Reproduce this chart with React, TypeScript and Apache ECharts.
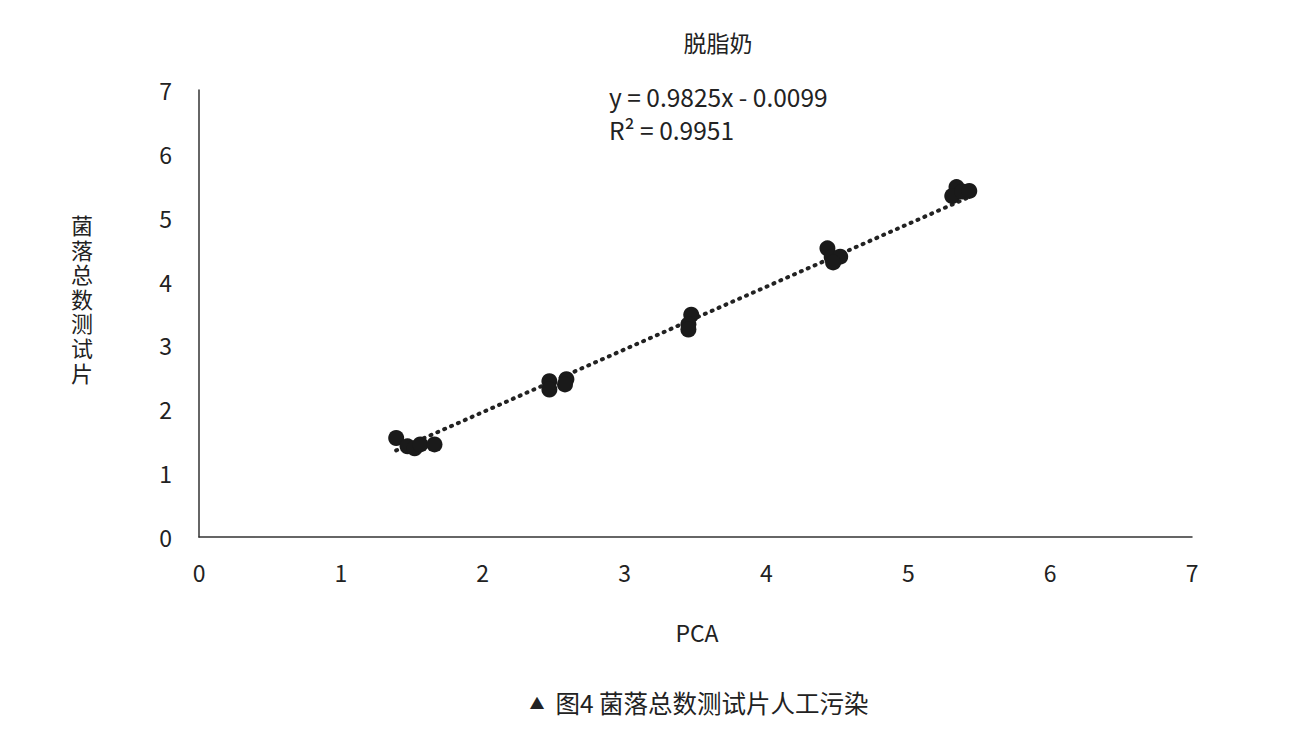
import { useEffect, useRef } from 'react';
import * as echarts from 'echarts';

// PCA (x) vs 菌落总数测试片 (y), skim milk samples
const pcaValues = [
  1.39, 1.47, 1.52, 1.56, 1.66,
  2.47, 2.47, 2.59, 2.58,
  3.47, 3.45, 3.45,
  4.43, 4.46, 4.52, 4.47,
  5.34, 5.31, 5.38, 5.43,
];
const stripValues = [
  1.55, 1.42, 1.39, 1.45, 1.45,
  2.44, 2.31, 2.47, 2.39,
  3.48, 3.33, 3.25,
  4.52, 4.38, 4.39, 4.30,
  5.48, 5.34, 5.41, 5.42,
];
const axisTicks = [0, 1, 2, 3, 4, 5, 6, 7];
const slope = 0.9825;
const intercept = -0.0099;
const rSquared = 0.9951;
const yAxisTitle = '菌落总数测试片';

const FONT = '"Noto Sans CJK SC", "Noto Sans", sans-serif';
const TEXT = '#222';

export default function App() {
  const ref = useRef<HTMLDivElement | null>(null);

  useEffect(() => {
    if (!ref.current) return;
    const chart = echarts.init(ref.current, undefined, { renderer: 'svg' });

    const xMin = Math.min(...pcaValues);
    const xMax = Math.max(...pcaValues);
    const trend = [xMin, xMax].map(x => [x, slope * x + intercept]);

    // vertical y-axis title, one char per element
    const yTitleChars = yAxisTitle.split('').map((ch, i) => ({
      type: 'text',
      x: 82,
      y: 224 + i * 24.6,
      style: {
        text: ch,
        font: `22px ${FONT}`,
        lineHeight: 22,
        fill: TEXT,
        align: 'center',
        verticalAlign: 'middle',
      },
    }));

    chart.setOption({
      animation: false,
      textStyle: { fontFamily: FONT },
      grid: { left: 199, right: 108, top: 90, bottom: 213 },
      xAxis: {
        type: 'value',
        min: axisTicks[0],
        max: axisTicks[axisTicks.length - 1],
        interval: 1,
        axisLine: { show: true, lineStyle: { color: '#333', width: 1.5 } },
        axisTick: { show: false },
        splitLine: { show: false },
        axisLabel: { color: TEXT, fontSize: 23, fontFamily: FONT, margin: 23 },
      },
      yAxis: {
        type: 'value',
        min: axisTicks[0],
        max: axisTicks[axisTicks.length - 1],
        interval: 1,
        axisLine: { show: true, lineStyle: { color: '#333', width: 1.5 } },
        axisTick: { show: false },
        splitLine: { show: false },
        axisLabel: { color: TEXT, fontSize: 23, fontFamily: FONT, margin: 27 },
      },
      graphic: [
        {
          type: 'text',
          x: 718,
          y: 42,
          style: {
            text: '脱脂奶',
            font: `23px ${FONT}`,
            fill: TEXT,
            align: 'center',
            verticalAlign: 'middle',
          },
        },
        {
          type: 'text',
          x: 609,
          y: 80,
          style: {
            text: `y = ${slope}x - ${Math.abs(intercept).toFixed(4)}\nR² = ${rSquared}`,
            font: `24.5px ${FONT}`,
            fill: TEXT,
            lineHeight: 33,
          },
        },
        ...yTitleChars,
        {
          type: 'text',
          x: 697,
          y: 632,
          style: {
            text: 'PCA',
            font: `23px ${FONT}`,
            fill: TEXT,
            align: 'center',
            verticalAlign: 'middle',
          },
        },
        {
          type: 'text',
          x: 699,
          y: 702,
          style: {
            text: '{tri|▲}  图4 菌落总数测试片人工污染',
            font: `24.5px ${FONT}`,
            fill: TEXT,
            align: 'center',
            verticalAlign: 'middle',
            rich: {
              tri: { fontSize: 15, fontFamily: FONT, fill: TEXT, verticalAlign: 'middle' },
            },
          },
        },
      ],
      series: [
        {
          type: 'line',
          data: trend,
          showSymbol: false,
          symbol: 'none',
          silent: true,
          lineStyle: { color: '#222', width: 4, type: [1, 6.5], cap: 'round' },
          z: 1,
        },
        {
          type: 'scatter',
          data: pcaValues.map((x, i) => [x, stripValues[i]]),
          symbol: 'circle',
          symbolSize: 16,
          itemStyle: { color: '#1a1a1a', opacity: 1 },
          z: 2,
        },
      ],
    });

    return () => chart.dispose();
  }, []);

  return (
    <div
      ref={ref}
      style={{ position: 'absolute', left: 0, top: 0, width: 1300, height: 750, background: '#fff' }}
    />
  );
}
